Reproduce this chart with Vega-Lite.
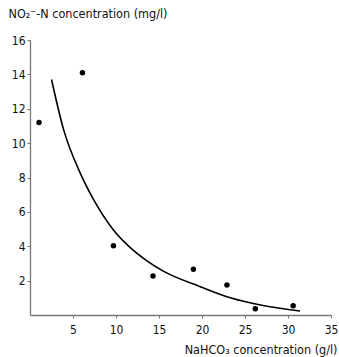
{
  "$schema": "https://vega.github.io/schema/vega-lite/v6.json",
  "width": 301,
  "height": 275,
  "autosize": "none",
  "padding": {"left": 30, "top": 40, "right": 8, "bottom": 42},
  "background": "white",
  "config": {
    "view": {"stroke": null},
    "font": "DejaVu Sans Condensed",
    "axis": {
      "grid": false,
      "domainColor": "#777777",
      "domainWidth": 1.3,
      "tickColor": "#777777",
      "tickSize": 3,
      "labelColor": "#111111",
      "titleColor": "#111111",
      "labelFontSize": 12,
      "labelOverlap": false,
      "titleFontSize": 12.5,
      "titleFontWeight": "normal"
    }
  },
  "datasets": {
    "points": [
      {"x": 1.05, "y": 11.2},
      {"x": 6.1, "y": 14.1},
      {"x": 9.7, "y": 4.03},
      {"x": 14.3, "y": 2.27},
      {"x": 19.0, "y": 2.66},
      {"x": 22.9, "y": 1.74},
      {"x": 26.2, "y": 0.37},
      {"x": 30.6, "y": 0.54}
    ],
    "curve": [
      {"x": 2.5, "y": 13.7},
      {"x": 3.9, "y": 10.8},
      {"x": 5.8, "y": 8.3},
      {"x": 7.3, "y": 6.8},
      {"x": 9.7, "y": 4.95},
      {"x": 11.6, "y": 3.95},
      {"x": 13.6, "y": 3.15},
      {"x": 15.5, "y": 2.55},
      {"x": 19.8, "y": 1.65},
      {"x": 23.3, "y": 1.0},
      {"x": 27.1, "y": 0.55},
      {"x": 31.4, "y": 0.23}
    ]
  },
  "encoding": {
    "x": {
      "field": "x", "type": "quantitative",
      "scale": {"domain": [0, 35], "nice": false},
      "axis": {
        "values": [5, 10, 15, 20, 25, 30, 35],
        "labelOverlap": false,
        "labelFlush": false,
        "title": "NaHCO₃ concentration (g/l)",
        "titleX": 307, "titleY": 38, "titleAlign": "right", "titleBaseline": "alphabetic",
        "labelPadding": 6
      }
    },
    "y": {
      "field": "y", "type": "quantitative",
      "scale": {"domain": [0, 16], "nice": false},
      "axis": {
        "values": [2, 4, 6, 8, 10, 12, 14, 16],
        "labelOverlap": false,
        "labelFlush": false,
        "labelBound": false,
        "title": "NO₂⁻-N concentration (mg/l)",
        "titleAngle": 0, "titleX": -22, "titleY": -23, "titleAlign": "left", "titleBaseline": "alphabetic",
        "labelPadding": 2
      }
    }
  },
  "layer": [
    {
      "data": {"name": "curve"},
      "mark": {"type": "line", "color": "black", "strokeWidth": 1.6, "interpolate": "monotone"}
    },
    {
      "data": {"name": "points"},
      "mark": {"type": "circle", "color": "black", "size": 30, "opacity": 1}
    }
  ]
}
